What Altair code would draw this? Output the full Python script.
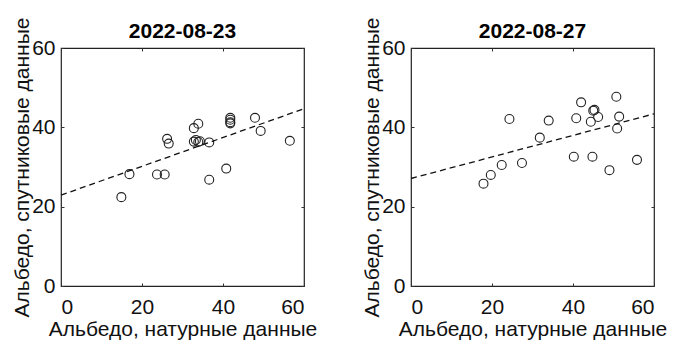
import altair as alt
import pandas as pd

# Field (in situ) vs satellite albedo, two survey dates
dates = ["2022-08-23", "2022-08-27"]

field_0823 = [14.9, 16.9, 23.7, 25.6, 26.2, 26.6, 32.8, 33.9, 32.8, 33.3, 33.9, 34.3,
              36.6, 36.6, 40.8, 41.8, 41.8, 41.8, 41.8, 47.9, 49.3, 56.5]
sat_0823 = [22.4, 28.2, 28.1, 28.1, 37.1, 35.9, 39.8, 40.9, 36.4, 36.8, 36.3, 36.5,
            36.2, 26.8, 29.6, 42.4, 41.9, 41.3, 41.0, 42.4, 39.1, 36.6]

field_0827 = [17.9, 19.7, 22.4, 24.3, 27.4, 31.8, 34.0, 40.2, 40.8, 42.0, 44.4, 44.8,
              45.0, 45.3, 46.2, 49.0, 50.7, 51.4, 50.9, 55.8]
sat_0827 = [25.8, 28.0, 30.5, 42.1, 31.0, 37.4, 41.7, 32.6, 42.3, 46.3, 41.4, 32.6,
            44.2, 44.4, 42.6, 29.2, 47.7, 42.7, 39.7, 31.8]

# Linear fit endpoints at x = 0 and x = 60
fit_x = [0, 60]
fit_y_0823 = [22.9, 44.7]
fit_y_0827 = [27.1, 43.4]

x_title = "Альбедо, натурные данные"
y_title = "Альбедо, спутниковые данные"
FONT = "Liberation Sans"
FS = 21
W, H = 243, 238
TICKS = [0, 20, 40, 60]
TK = 3  # inward tick length


def panel(date, fx, fy, line_y):
    pts = pd.DataFrame({"x": fx, "y": fy})
    fit = pd.DataFrame({"x": fit_x, "y": line_y})
    xs = alt.Scale(domain=[0, 60], nice=False)
    ys = alt.Scale(domain=[0, 60], nice=False)

    points = alt.Chart(pts).mark_point(
        shape="circle", size=80, filled=False, color="#222222", strokeWidth=1.1, opacity=1
    ).encode(
        x=alt.X("x:Q", scale=xs, title=x_title,
                axis=alt.Axis(orient="bottom", values=TICKS, offset=-TK, tickSize=TK,
                              domain=False, grid=False, labelPadding=10,
                              titleX=W / 2, titleY=52, titleBaseline="alphabetic",
                              tickColor="#333333")),
        y=alt.Y("y:Q", scale=ys, title=y_title,
                axis=alt.Axis(orient="left", values=TICKS, offset=-TK, tickSize=TK,
                              domain=False, grid=False, labelPadding=6,
                              titleX=-36, titleY=H / 2, titleBaseline="alphabetic",
                              tickColor="#333333")),
    )

    line = alt.Chart(fit).mark_line(
        color="#111111", strokeWidth=1.3, strokeDash=[6, 4]
    ).encode(
        x=alt.X("x:Q", scale=xs,
                axis=alt.Axis(orient="top", values=TICKS, offset=-TK, tickSize=TK,
                              domain=False, grid=False, labels=False, title=None,
                              tickColor="#333333")),
        y=alt.Y("y:Q", scale=ys,
                axis=alt.Axis(orient="right", values=TICKS, offset=-TK, tickSize=TK,
                              domain=False, grid=False, labels=False, title=None,
                              tickColor="#333333")),
    )

    return alt.layer(points, line).resolve_axis(x="independent", y="independent").properties(
        width=W, height=H,
        title=alt.TitleParams(date, fontSize=FS, fontWeight="bold", font=FONT,
                              color="#000000", offset=-25, frame="group"),
    )


chart = alt.hconcat(
    panel(dates[0], field_0823, sat_0823, fit_y_0823),
    panel(dates[1], field_0827, sat_0827, fit_y_0827),
    spacing=107,
    bounds="flush",
).properties(
    padding={"left": 10, "top": 16, "right": 0, "bottom": 0},
    background="white",
).configure_view(
    stroke="#222222", strokeWidth=1.2
).configure_axis(
    labelFont=FONT, titleFont=FONT, labelFontSize=FS, titleFontSize=FS,
    labelColor="#111111", titleColor="#111111", titleFontWeight="normal",
)

chart.save("out.html", embed_options={"renderer": "svg", "actions": False})
